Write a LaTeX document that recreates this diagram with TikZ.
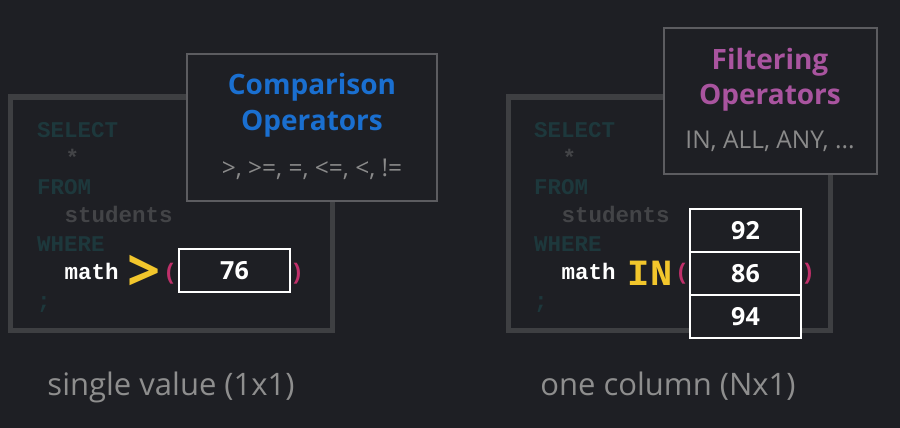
\documentclass[tikz,border=0pt]{standalone}
\usepackage{fontspec}
\setmainfont{Open Sans}
\newfontfamily\codefont{Liberation Mono}
\usetikzlibrary{positioning}

\definecolor{bgdark}{HTML}{1E1F24}
\definecolor{framegray}{HTML}{3E3F42}
\definecolor{boxgray}{HTML}{5C5C60}
\definecolor{kwteal}{HTML}{1D383C}
\definecolor{dimgray}{HTML}{434447}
\definecolor{opyellow}{HTML}{F2C62C}
\definecolor{parpink}{HTML}{C0306A}
\definecolor{cmpblue}{HTML}{1A6FD0}
\definecolor{filpurple}{HTML}{A9549F}
\definecolor{opgray}{HTML}{8A8A8A}
\definecolor{labelgray}{HTML}{8E8E8E}

\tikzset{
	code/.style={anchor=base west, inner sep=0pt, font=\codefont\bfseries\fontsize{22.5}{27}\selectfont},
	kw/.style={code, text=kwteal},
	dim/.style={code, text=dimgray},
	par/.style={code, anchor=base, text=parpink},
	codeframe/.style={draw=framegray, line width=5pt},
	opframe/.style={draw=boxgray, line width=2pt, fill=bgdark},
	title/.style={anchor=base, inner sep=0pt, font=\bfseries\fontsize{28}{35}\selectfont},
	oplist/.style={anchor=base, inner sep=0pt, text=opgray, font=\fontsize{24.5}{28}\selectfont},
	cell/.style={draw=white, line width=2.5pt, fill=bgdark, minimum width=111pt, minimum height=43pt, inner sep=0pt, outer sep=0pt, text=white, font=\bfseries\fontsize{25}{30}\selectfont},
	caption/.style={anchor=base, inner sep=0pt, text=labelgray, font=\fontsize{31}{36}\selectfont}
}

\begin{document}
\begin{tikzpicture}[x=1pt, y=-1pt]
	\fill[bgdark] (0,0) rectangle (900,428);
	\useasboundingbox (0,0) rectangle (900,428);

	% left: single value
	\draw[codeframe] (10,97) rectangle (332,330);
	\node[kw] (selL) at (37,137) {SELECT};
	\node[dim] (starL) at (65.5,165.5) {*};
	\node[kw] (fromL) at (37,194) {FROM};
	\node[dim] (tblL) at (64.5,222.5) {students};
	\node[kw] (whereL) at (37,251) {WHERE};
	\node[code, text=white] (mathL) at (64.5,279.5) {math};
	\node[kw] (semiL) at (37,308) {;};
	\node[inner sep=0pt, text=opyellow, font=\bfseries\fontsize{58}{60}\selectfont] (gt) at (144,273) {>};
	\node[par] (lparL) at (170,279.5) {(};
	\node[par] (rparL) at (297,279.5) {)};
	\node[cell] (v76) at (234.5,270.5) {76};
	\draw[opframe] (187,54) rectangle (437,201);
	\node[title, text=cmpblue] (cmpA) at (312,95) {Comparison};
	\node[title, text=cmpblue] (cmpB) at (312,130) {Operators};
	\node[oplist] (cmpOps) at (312,176) {>, >=, =, <=, <, !=};
	\node[caption] (capL) at (171,395) {single value (1x1)};

	% right: one column
	\draw[codeframe] (508,97) rectangle (830,330);
	\node[kw] (selR) at (534,137) {SELECT};
	\node[dim] (starR) at (562.5,165.5) {*};
	\node[kw] (fromR) at (534,194) {FROM};
	\node[dim] (tblR) at (561.5,222.5) {students};
	\node[kw] (whereR) at (534,251) {WHERE};
	\node[code, text=white] (mathR) at (561.5,279.5) {math};
	\node[kw] (semiR) at (534,308) {;};
	\node[code, anchor=base, text=opyellow, font=\codefont\bfseries\fontsize{37}{40}\selectfont] (inop) at (650,285) {IN};
	\node[par] (lparR) at (682,279.5) {(};
	\node[par] (rparR) at (808,279.5) {)};
	\node[cell] (v92) at (745.5,230.5) {92};
	\node[cell, below=0pt of v92] (v86) {86};
	\node[cell, below=0pt of v86] (v94) {94};
	\draw[opframe] (664,28) rectangle (877,174);
	\node[title, text=filpurple] (filA) at (770,70) {Filtering};
	\node[title, text=filpurple] (filB) at (770,105) {Operators};
	\node[oplist] (filOps) at (770,148) {IN, ALL, ANY, ...};
	\node[caption] (capR) at (668,395) {one column (Nx1)};
\end{tikzpicture}
\end{document}
